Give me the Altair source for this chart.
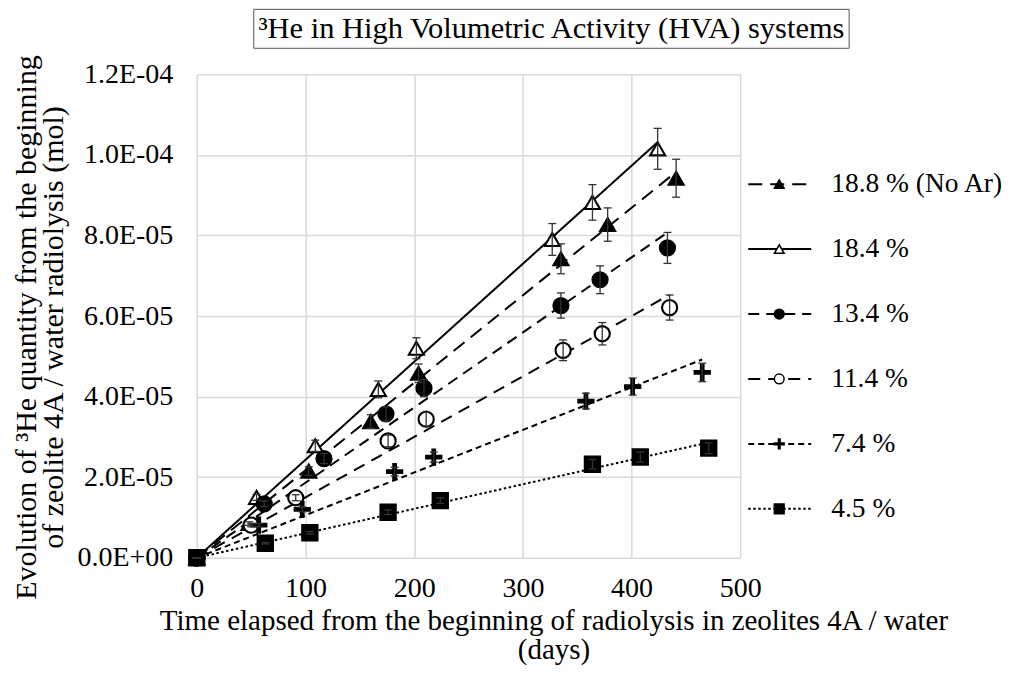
import altair as alt
import numpy as np
import pandas as pd

FONT = "Liberation Serif"

SERIES = ["18.8 % (No Ar)", "18.4 %", "13.4 %", "11.4 %", "7.4 %", "4.5 %"]

# days elapsed
D_188 = [0, 48, 103, 160, 204, 335, 378, 441]
D_184 = [0, 55, 109, 167, 202, 327, 364, 424]
D_134 = [0, 62, 117, 174, 209, 335, 371, 433]
D_114 = [0, 50, 91, 176, 211, 337, 373, 435]
D_74 = [0, 57, 97, 182, 218, 358, 401, 465]
D_45 = [0, 63, 104, 176, 224, 364, 408, 471]

# 3He quantity, in units of 1e-5 mol
Q_188 = [0, 0.85, 2.15, 3.38, 4.58, 7.42, 8.27, 9.42]
Q_184 = [0, 1.50, 2.78, 4.18, 5.20, 7.90, 8.82, 10.15]
Q_134 = [0, 1.34, 2.46, 3.57, 4.21, 6.26, 6.90, 7.69]
Q_114 = [0, 0.81, 1.49, 2.90, 3.44, 5.15, 5.56, 6.21]
Q_74 = [0, 0.81, 1.20, 2.14, 2.50, 3.89, 4.25, 4.60]
Q_45 = [0, 0.36, 0.62, 1.13, 1.42, 2.32, 2.50, 2.72]

REL_ERR = 0.05  # relative error bars

X_TICKS = [0, 100, 200, 300, 400, 500]
Y_TICKS = [0, 2e-5, 4e-5, 6e-5, 8e-5, 1e-4, 1.2e-4]

TITLE = "\u00b3He in High Volumetric Activity (HVA) systems"
X_TITLE = ["Time elapsed from the beginning of radiolysis in zeolites 4A / water", "(days)"]
Y_TITLE = ["Evolution of \u00b3He quantity from the beginning", "of zeolite 4A / water radiolysis (mol)"]

DAYS = [D_188, D_184, D_134, D_114, D_74, D_45]
QTY = [Q_188, Q_184, Q_134, Q_114, Q_74, Q_45]

rows = []
trend_rows = []
for name, dx, qy in zip(SERIES, DAYS, QTY):
    x = np.array(dx, dtype=float)
    y = np.array(qy, dtype=float) * 1e-5
    for xi, yi in zip(x, y):
        rows.append({"series": name, "days": xi, "val": yi,
                     "lo": yi * (1 - REL_ERR), "hi": yi * (1 + REL_ERR)})
    slope = float((x * y).sum() / (x * x).sum())
    for xe in (0.0, float(x.max())):
        trend_rows.append({"series": name, "days": xe, "val": slope * xe})

df = pd.DataFrame(rows)
trend_df = pd.DataFrame(trend_rows)
leg_df = pd.DataFrame({"series": SERIES})

DASHES = [[14, 8], [1, 0], [11, 7], [12, 8], [6, 4], [2.5, 2.5]]
PLUS = ("M-1,-0.17L1,-0.17L1,0.17L-1,0.17Z"
        "M-0.17,-1L0.17,-1L0.17,1L-0.17,1Z")
SHAPES = ["triangle-up", "triangle-up", "circle", "circle", PLUS, "square"]
FILLS = ["black", "white", "black", "white", "black", "black"]
SIZES = [230, 230, 190, 170, 330, 220]
STROKES = [2, 2.2, 2, 2, 0.3, 1]

W, H = 544, 484

xscale = alt.Scale(domain=[0, 500], nice=False)
yscale = alt.Scale(domain=[0, 1.2e-4], nice=False)
xaxis = alt.Axis(values=X_TICKS, title=X_TITLE, labelPadding=17, titlePadding=4,
                 titleLineHeight=29, titleFontSize=29, labelFlush=False,
                 titleX=357)
yaxis = alt.Axis(values=Y_TICKS, title=Y_TITLE, labelPadding=24, titlePadding=9,
                 titleLineHeight=27, titleFontSize=30, labelFlush=False,
                 titleY=253,
                 labelExpr="replace(replace(format(datum.value, '.1e'), 'e-', 'E-0'), 'e+', 'E+0')")


def X(field):
    return alt.X(field, type="quantitative", scale=xscale, axis=xaxis)


def Y(field):
    return alt.Y(field, type="quantitative", scale=yscale, axis=yaxis)


dash_enc = alt.StrokeDash("series:N", scale=alt.Scale(domain=SERIES, range=DASHES), legend=None)
shape_enc = alt.Shape("series:N", scale=alt.Scale(domain=SERIES, range=SHAPES), legend=None)
fill_enc = alt.Fill("series:N", scale=alt.Scale(domain=SERIES, range=FILLS), legend=None)
size_enc = alt.Size("series:N", scale=alt.Scale(domain=SERIES, range=SIZES), legend=None)
sw_enc = alt.StrokeWidth("series:N", scale=alt.Scale(domain=SERIES, range=STROKES), legend=None)

trend = alt.Chart(trend_df).mark_line(color="black", strokeWidth=2).encode(
    x=X("days"), y=Y("val"), detail="series:N", strokeDash=dash_enc
)
pts = alt.Chart(df).mark_point(filled=True, stroke="black", opacity=1).encode(
    x=X("days"), y=Y("val"), shape=shape_enc, fill=fill_enc, size=size_enc,
    strokeWidth=sw_enc
)
err = alt.Chart(df).mark_rule(color="#333333", strokeWidth=1.3).encode(
    x=X("days"), y=Y("lo"), y2="hi"
)
cap_lo = alt.Chart(df).mark_tick(orient="horizontal", size=8, thickness=1.3,
                                  color="#333333", opacity=1).encode(x=X("days"), y=Y("lo"))
cap_hi = alt.Chart(df).mark_tick(orient="horizontal", size=8, thickness=1.3,
                                  color="#333333", opacity=1).encode(x=X("days"), y=Y("hi"))

main = alt.layer(trend, pts, err, cap_lo, cap_hi)

ly = alt.Y("series:N", scale=alt.Scale(type="point", domain=SERIES, range=[110, 435], padding=0),
           axis=None)
l_rule = alt.Chart(leg_df).mark_rule(color="black", strokeWidth=2).encode(
    y=ly, x=alt.value(552), x2=alt.value(615), strokeDash=dash_enc
)
l_pt = alt.Chart(leg_df).mark_point(filled=True, stroke="black", strokeWidth=1.5, opacity=1).encode(
    y=ly, x=alt.value(583), shape=shape_enc, fill=fill_enc, size=alt.value(95)
)
l_txt = alt.Chart(leg_df).mark_text(align="left", baseline="middle", font=FONT, fontSize=27.5,
                                    color="black").encode(
    y=ly, x=alt.value(635), text="series:N"
)
one = alt.Data(values=[{"k": 1}])
t_box = alt.Chart(one).mark_rect(fill="white", stroke="#555555", strokeWidth=1).encode(
    x=alt.value(57), x2=alt.value(653), y=alt.value(-65), y2=alt.value(-26)
)
t_txt = alt.Chart(one).mark_text(align="center", baseline="middle", font=FONT, fontSize=30.5,
                                 color="black").encode(
    x=alt.value(355), y=alt.value(-45), text=alt.value(TITLE)
)
legend = alt.layer(l_rule, l_pt, l_txt, t_box, t_txt)

chart = alt.layer(main, legend).resolve_scale(y="independent").properties(
    width=W, height=H, padding={"left": 3, "top": 0, "right": 0, "bottom": 0}
).configure_axis(
    grid=True, gridColor="#d9d9d9", gridWidth=1.5, domain=False, ticks=False,
    labelFont=FONT, labelFontSize=28, labelColor="black",
    titleFont=FONT, titleFontWeight="normal", titleColor="black"
).configure_view(stroke=None)

chart.save("out.html", embed_options={"renderer": "svg", "actions": False})
